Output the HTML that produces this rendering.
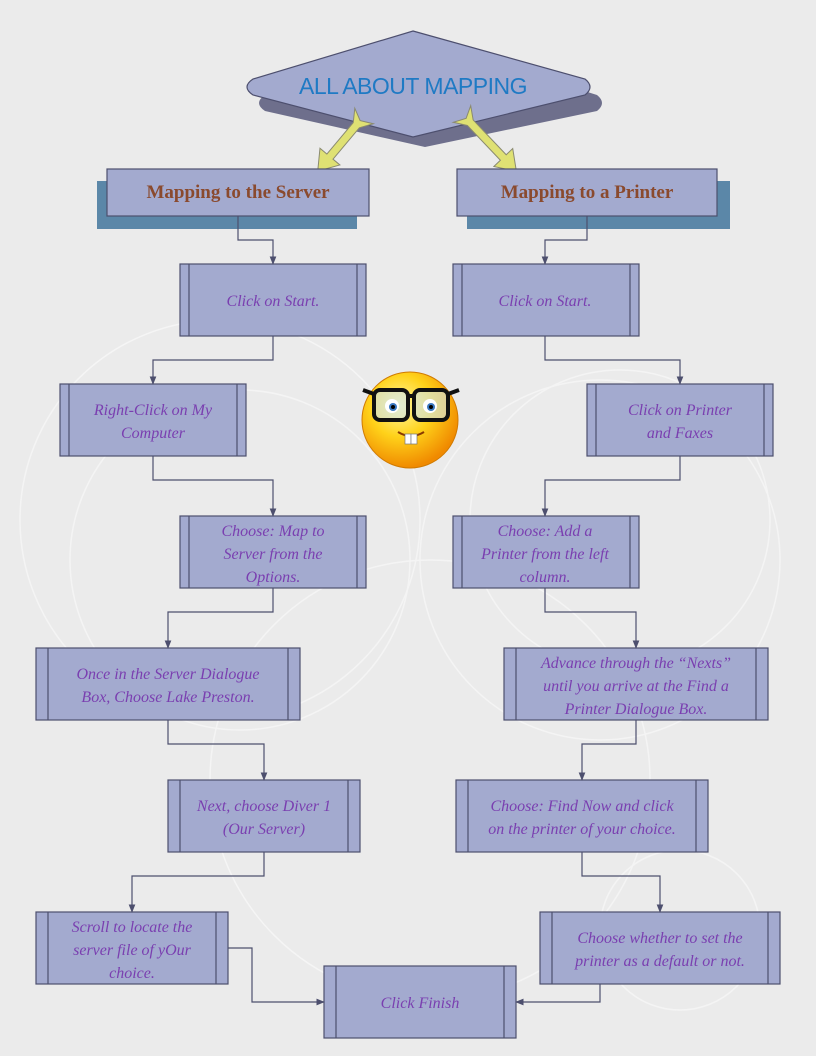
<!DOCTYPE html>
<html><head><meta charset="utf-8"><style>
html,body{margin:0;padding:0;background:#ebebeb}
svg{display:block}
.t{font-family:"Liberation Serif",serif;font-style:italic;font-size:16px;fill:#7a3fb0;text-anchor:middle}
.h{font-family:"Liberation Serif",serif;font-weight:bold;font-size:19px;fill:#8a4a2e;text-anchor:middle}
.b{fill:#a3aacf;stroke:#4d4f6e;stroke-width:1.2}
.c{fill:none;stroke:#4d4f6e;stroke-width:1.2}
</style></head><body>
<svg width="816" height="1056" viewBox="0 0 816 1056" xmlns="http://www.w3.org/2000/svg">
<defs><marker id="a" viewBox="0 0 10 10" refX="9" refY="5" markerWidth="7" markerHeight="7" orient="auto"><path d="M0,1L10,5L0,9z" fill="#4d4f6e"/></marker></defs>
<rect width="816" height="1056" fill="#ebebeb"/>
<g fill="none" stroke="#f7f7f7" stroke-width="1.5" opacity=".8">
<circle cx="220" cy="520" r="200"/><circle cx="240" cy="560" r="170"/><circle cx="600" cy="560" r="180"/><circle cx="620" cy="520" r="150"/><circle cx="430" cy="780" r="220"/><circle cx="680" cy="930" r="80"/>
</g>
<!-- diamond -->
<path d="M425,41 L597,95 Q607,103 597,111 L425,147 L265,111 Q253,103 265,95 Z" fill="#6e6f8c"/>
<path d="M413,31 L585,79 Q595,87 585,95 L413,137 L253,95 Q241,87 253,79 Z" fill="#a3aacf" stroke="#4d4f6e" stroke-width="1.2"/>
<text x="413" y="94" font-family="Liberation Sans,sans-serif" font-size="23" fill="#1f7ac4" text-anchor="middle" letter-spacing="-0.5">ALL ABOUT MAPPING</text>
<!-- yellow arrows -->
<g fill="#dfe173" stroke="#8a8a70" stroke-width="1">
<polygon transform="translate(364,116) rotate(130)" points="0,-12 12,-4 53,-4 53,-13 72,0 53,13 53,4 12,4 0,12 6,0"/>
<polygon transform="translate(462,114) rotate(46.5)" points="0,-12 12,-4 60,-4 60,-13 79,0 60,13 60,4 12,4 0,12 6,0"/>
</g>
<!-- headers -->
<rect x="97" y="181" width="260" height="48" fill="#5b87a8"/>
<rect x="107" y="169" width="262" height="47" class="b"/>
<text x="238" y="198" class="h">Mapping to the Server</text>
<rect x="467" y="181" width="263" height="48" fill="#5b87a8"/>
<rect x="457" y="169" width="260" height="47" class="b"/>
<text x="587" y="198" class="h">Mapping to a Printer</text>
<!-- process boxes -->
<g>
<rect x="180" y="264" width="186" height="72" class="b"/><path d="M189,264V336M357,264V336" class="c"/>
<rect x="453" y="264" width="186" height="72" class="b"/><path d="M462,264V336M630,264V336" class="c"/>
<rect x="60" y="384" width="186" height="72" class="b"/><path d="M69,384V456M237,384V456" class="c"/>
<rect x="587" y="384" width="186" height="72" class="b"/><path d="M596,384V456M764,384V456" class="c"/>
<rect x="180" y="516" width="186" height="72" class="b"/><path d="M189,516V588M357,516V588" class="c"/>
<rect x="453" y="516" width="186" height="72" class="b"/><path d="M462,516V588M630,516V588" class="c"/>
<rect x="36" y="648" width="264" height="72" class="b"/><path d="M48,648V720M288,648V720" class="c"/>
<rect x="504" y="648" width="264" height="72" class="b"/><path d="M516,648V720M756,648V720" class="c"/>
<rect x="168" y="780" width="192" height="72" class="b"/><path d="M180,780V852M348,780V852" class="c"/>
<rect x="456" y="780" width="252" height="72" class="b"/><path d="M468,780V852M696,780V852" class="c"/>
<rect x="36" y="912" width="192" height="72" class="b"/><path d="M48,912V984M216,912V984" class="c"/>
<rect x="540" y="912" width="240" height="72" class="b"/><path d="M552,912V984M768,912V984" class="c"/>
<rect x="324" y="966" width="192" height="72" class="b"/><path d="M336,966V1038M504,966V1038" class="c"/>
</g>
<!-- texts -->
<text x="273" y="306" class="t">Click on Start.</text>
<text x="545" y="306" class="t">Click on Start.</text>
<text x="153" y="415" class="t">Right-Click on My</text><text x="153" y="438" class="t">Computer</text>
<text x="680" y="415" class="t">Click on Printer</text><text x="680" y="438" class="t">and Faxes</text>
<text x="273" y="536" class="t">Choose: Map to</text><text x="273" y="559" class="t">Server from the</text><text x="273" y="582" class="t">Options.</text>
<text x="545" y="536" class="t">Choose: Add a</text><text x="545" y="559" class="t">Printer from the left</text><text x="545" y="582" class="t">column.</text>
<text x="168" y="679" class="t">Once in the Server Dialogue</text><text x="168" y="702" class="t">Box, Choose Lake Preston.</text>
<text x="636" y="668" class="t">Advance through the “Nexts”</text><text x="636" y="691" class="t">until you arrive at the Find a</text><text x="636" y="714" class="t">Printer Dialogue Box.</text>
<text x="264" y="811" class="t">Next, choose Diver 1</text><text x="264" y="834" class="t">(Our Server)</text>
<text x="582" y="811" class="t">Choose: Find Now and click</text><text x="582" y="834" class="t">on the printer of your choice.</text>
<text x="132" y="932" class="t">Scroll to locate the</text><text x="132" y="955" class="t">server file of yOur</text><text x="132" y="978" class="t">choice.</text>
<text x="660" y="943" class="t">Choose whether to set the</text><text x="660" y="966" class="t">printer as a default or not.</text>
<text x="420" y="1008" class="t">Click Finish</text>
<!-- connectors -->
<g class="c" marker-end="url(#a)">
<path d="M238,216V240H273V264"/>
<path d="M587,216V240H545V264"/>
<path d="M273,336V360H153V384"/>
<path d="M545,336V360H680V384"/>
<path d="M153,456V480H273V516"/>
<path d="M680,456V480H545V516"/>
<path d="M273,588V612H168V648"/>
<path d="M545,588V612H636V648"/>
<path d="M168,720V744H264V780"/>
<path d="M636,720V744H582V780"/>
<path d="M264,852V876H132V912"/>
<path d="M582,852V876H660V912"/>
<path d="M228,948H252V1002H324"/>
<path d="M600,984V1002H516"/>
</g>
<!-- smiley -->
<defs><radialGradient id="s" cx="40%" cy="35%" r="65%"><stop offset="0" stop-color="#fff7a0"/><stop offset=".5" stop-color="#ffd21a"/><stop offset="1" stop-color="#f08a00"/></radialGradient></defs>
<circle cx="410" cy="420" r="48" fill="url(#s)" stroke="#d07a00"/>
<g stroke="#111" stroke-width="4" fill="#cfe6f5" fill-opacity=".6">
<rect x="374" y="390" width="34" height="30" rx="6"/><rect x="414" y="390" width="34" height="30" rx="6"/>
</g>
<path d="M408,396H414M374,394L363,390M448,394L459,390" stroke="#111" stroke-width="4"/>
<circle cx="392" cy="406" r="7" fill="#fff"/><circle cx="430" cy="406" r="7" fill="#fff"/>
<circle cx="393" cy="407" r="4" fill="#3a78c0"/><circle cx="431" cy="407" r="4" fill="#3a78c0"/>
<circle cx="393" cy="407" r="2" fill="#000"/><circle cx="431" cy="407" r="2" fill="#000"/>
<path d="M398,432Q411,440 424,432" stroke="#8a3a00" stroke-width="2" fill="none"/>
<rect x="405" y="434" width="6" height="10" fill="#fff" stroke="#777" stroke-width=".7"/><rect x="411" y="434" width="6" height="10" fill="#fff" stroke="#777" stroke-width=".7"/>
</svg>
</body></html>
